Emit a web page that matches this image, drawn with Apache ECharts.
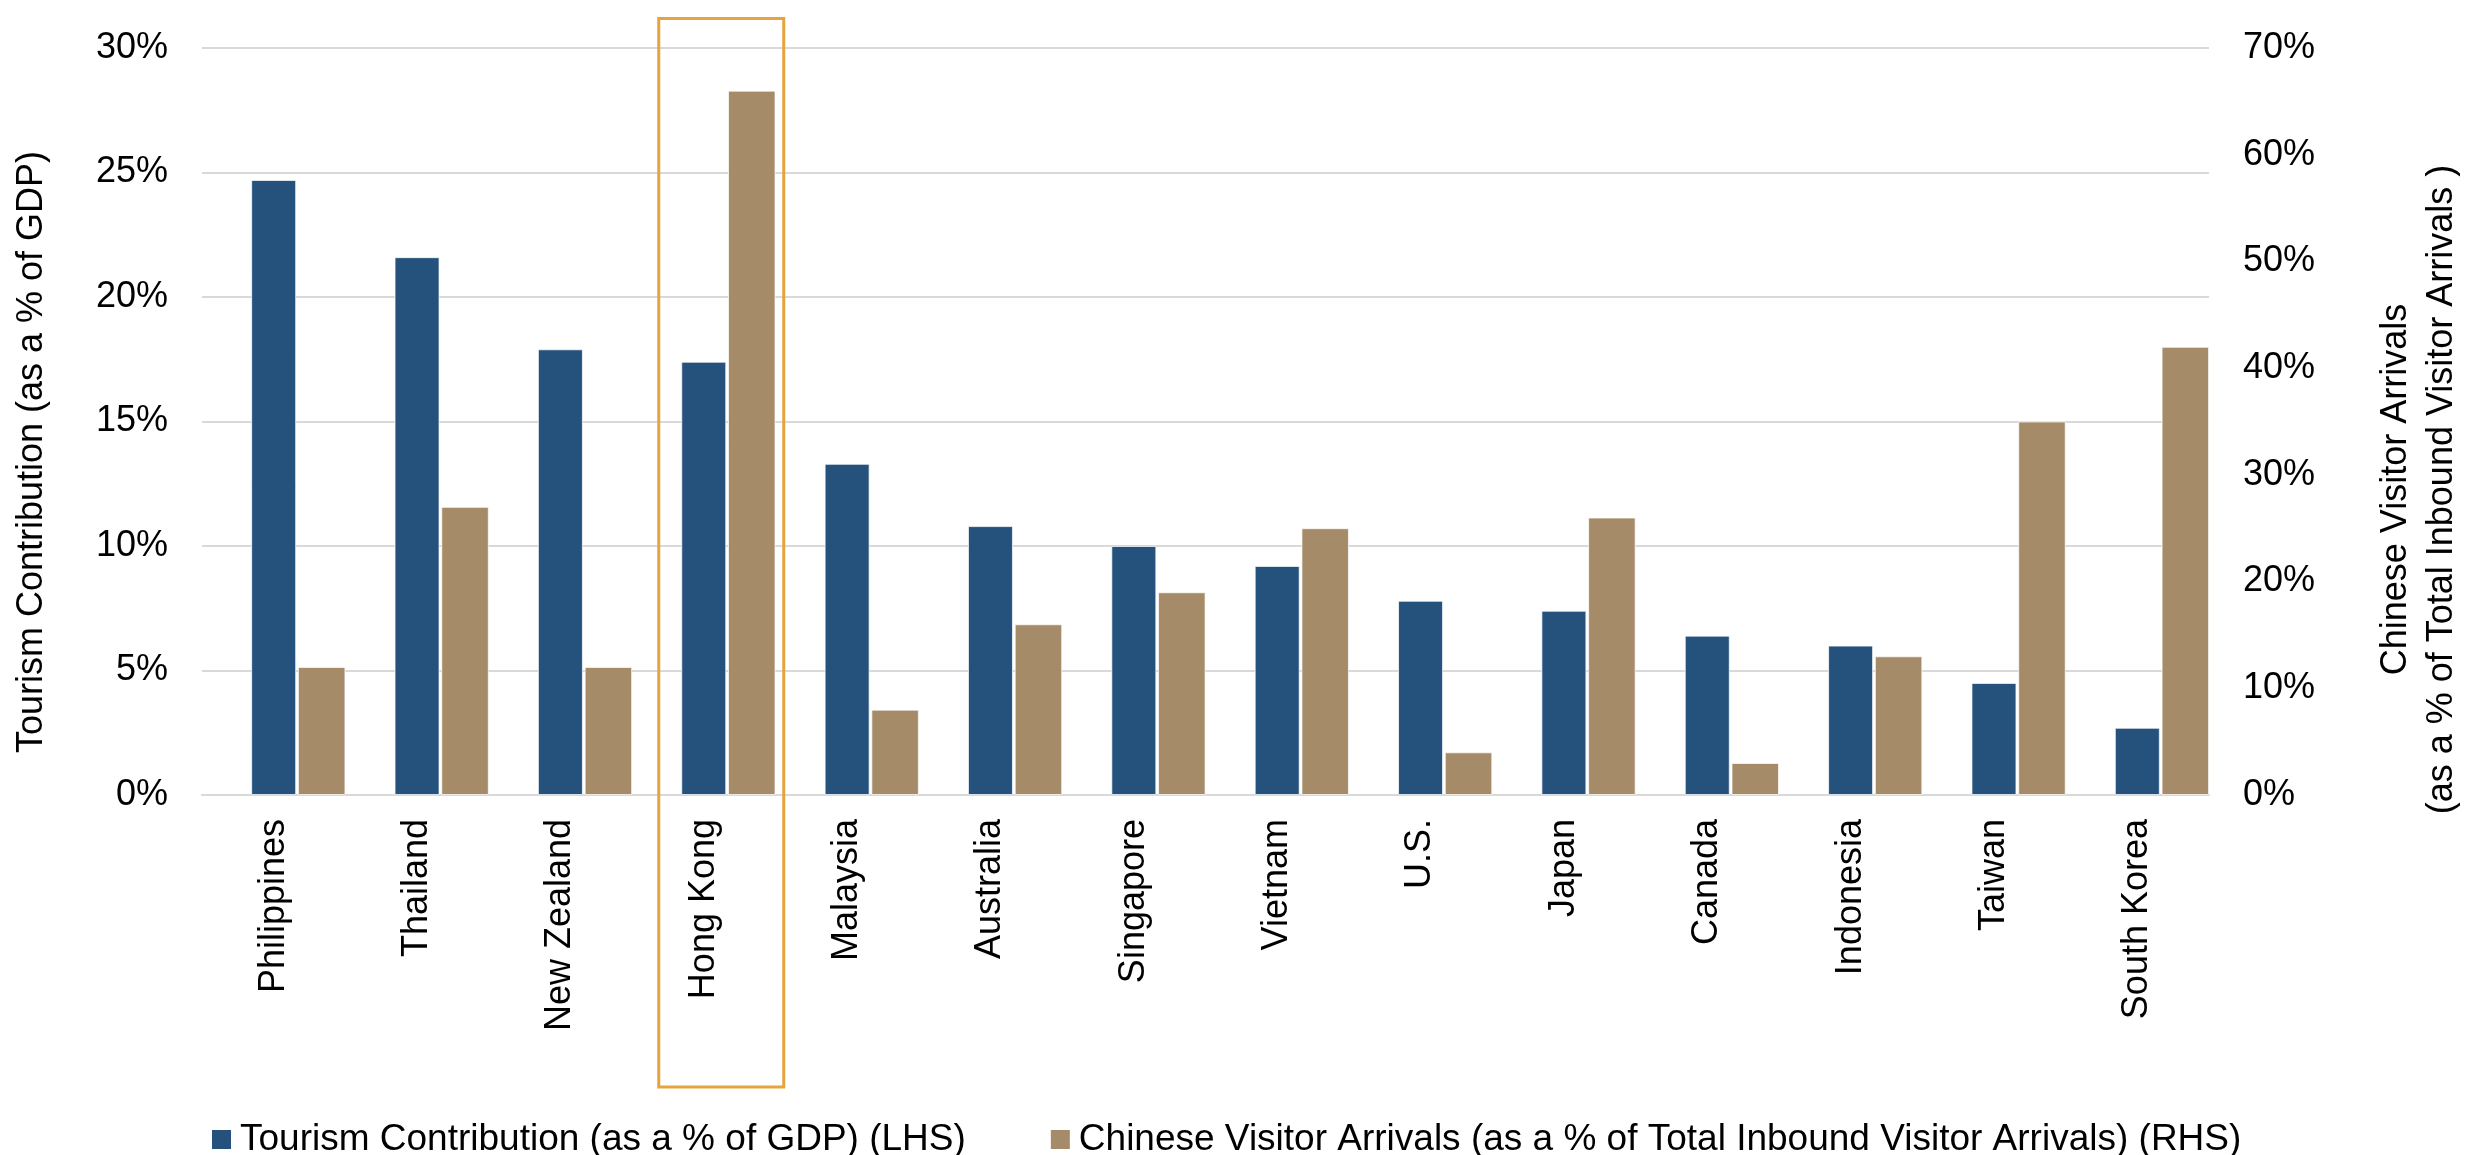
<!DOCTYPE html>
<html>
<head>
<meta charset="utf-8">
<title>Tourism Contribution vs Chinese Visitor Arrivals</title>
<script src="https://cdn.jsdelivr.net/npm/echarts@6/dist/echarts.min.js"></script>
<style>
  html, body { margin: 0; padding: 0; background: #ffffff; }
  #chart { width: 2487px; height: 1155px; }
</style>
</head>
<body>
<div id="chart"></div>
<script>
// Economies, ordered by tourism's share of GDP
const categories = ['Philippines', 'Thailand', 'New Zealand', 'Hong Kong', 'Malaysia', 'Australia',
  'Singapore', 'Vietnam', 'U.S.', 'Japan', 'Canada', 'Indonesia', 'Taiwan', 'South Korea'];

// Tourism contribution, % of GDP (left axis)
const tourismShare = [24.7, 21.6, 17.9, 17.4, 13.3, 10.8, 10.0, 9.2, 7.8, 7.4, 6.4, 6.0, 4.5, 2.7];

// Chinese visitor arrivals, % of total inbound arrivals (right axis)
const chineseShare = [12, 27, 12, 66, 8, 16, 19, 25, 4, 26, 3, 13, 35, 42];

// Axis ticks
const leftTicks = { min: 0, max: 30, interval: 5 };
const rightTicks = { min: 0, max: 70, interval: 10 };

const seriesNames = [
  'Tourism Contribution (as a % of GDP) (LHS)',
  'Chinese Visitor Arrivals (as a % of Total Inbound Visitor Arrivals) (RHS)'
];
const highlighted = 'Hong Kong';

const FONT = '"Liberation Sans", Arial, Helvetica, sans-serif';
const BLUE = '#25527C';
const TAN = '#A58B68';
const GRID = '#D9D9D9';

const chart = echarts.init(document.getElementById('chart'), null, { renderer: 'canvas' });

const plotLeft = 202, plotRight = 278, plotTop = 48, plotBottom = 360;
const pairShift = 48; // second bar sits one bar-width to the right of the first

const pct = v => v + '%';

chart.setOption({
  animation: false,
  backgroundColor: '#ffffff',
  textStyle: { fontFamily: FONT },
  grid: [
    { left: plotLeft, right: plotRight, top: plotTop, bottom: plotBottom, containLabel: false },
    { left: plotLeft + pairShift, right: plotRight - pairShift, top: plotTop, bottom: plotBottom, containLabel: false }
  ],
  legend: {
    left: 207,
    top: 1116,
    itemWidth: 19,
    itemHeight: 19,
    itemGap: 85,
    icon: 'rect',
    selectedMode: false,
    itemStyle: { borderWidth: 0 },
    textStyle: { fontFamily: FONT, fontSize: 37, color: '#000000', padding: [0, 0, 0, 4] },
    data: seriesNames
  },
  xAxis: [
    {
      type: 'category',
      gridIndex: 0,
      data: categories,
      axisLine: { show: true, lineStyle: { color: GRID, width: 2 } },
      axisTick: { show: false },
      axisLabel: {
        rotate: 90,
        margin: 24,
        interval: 0,
        fontFamily: FONT,
        fontSize: 36,
        color: '#000000'
      },
      splitLine: { show: false }
    },
    {
      type: 'category',
      gridIndex: 1,
      data: categories,
      show: false
    }
  ],
  yAxis: [
    {
      type: 'value',
      gridIndex: 0,
      position: 'left',
      min: leftTicks.min,
      max: leftTicks.max,
      interval: leftTicks.interval,
      axisLine: { show: false },
      axisTick: { show: false },
      axisLabel: { formatter: pct, margin: 34, fontFamily: FONT, fontSize: 36, color: '#000000' },
      splitLine: { show: true, lineStyle: { color: GRID, width: 2 } },
      name: 'Tourism Contribution (as a % of GDP)',
      nameLocation: 'middle',
      nameGap: 152,
      nameTextStyle: { fontFamily: FONT, fontSize: 36, color: '#000000', padding: [0, 61, 0, 0] }
    },
    {
      type: 'value',
      gridIndex: 0,
      position: 'right',
      min: rightTicks.min,
      max: rightTicks.max,
      interval: rightTicks.interval,
      axisLine: { show: false },
      axisTick: { show: false },
      axisLabel: { formatter: pct, margin: 34, fontFamily: FONT, fontSize: 36, color: '#000000' },
      splitLine: { show: false },
      name: 'Chinese Visitor Arrivals\n(as a % of Total Inbound Visitor Arrivals )',
      nameLocation: 'middle',
      nameGap: 164,
      nameTextStyle: { fontFamily: FONT, fontSize: 36, lineHeight: 46, color: '#000000', padding: [0, 136, 0, 0] }
    },
    {
      type: 'value',
      gridIndex: 1,
      min: rightTicks.min,
      max: rightTicks.max,
      interval: rightTicks.interval,
      show: false,
      splitLine: { show: false }
    }
  ],
  series: [
    {
      name: seriesNames[0],
      type: 'bar',
      xAxisIndex: 0,
      yAxisIndex: 0,
      barWidth: 45,
      itemStyle: { color: BLUE, borderColor: 'rgba(255,255,255,0.7)', borderWidth: 1 },
      data: tourismShare
    },
    {
      name: seriesNames[1],
      type: 'bar',
      xAxisIndex: 1,
      yAxisIndex: 2,
      barWidth: 47.5,
      itemStyle: { color: TAN, borderColor: 'rgba(255,255,255,0.7)', borderWidth: 1 },
      data: chineseShare
    }
  ]
});

// Orange frame around the highlighted economy, placed from the category axis
const cx = chart.convertToPixel({ xAxisIndex: 0 }, highlighted);
const yTop = chart.convertToPixel({ yAxisIndex: 0 }, leftTicks.max);
const yBase = chart.convertToPixel({ yAxisIndex: 0 }, leftTicks.min);
chart.setOption({
  graphic: [{
    type: 'rect',
    silent: true,
    z: 100,
    shape: { x: cx - 45, y: yTop - 29.5, width: 125, height: (yBase + 292) - (yTop - 29.5) },
    style: { fill: 'none', stroke: '#E8A33C', lineWidth: 3 }
  }]
});
</script>
</body>
</html>
